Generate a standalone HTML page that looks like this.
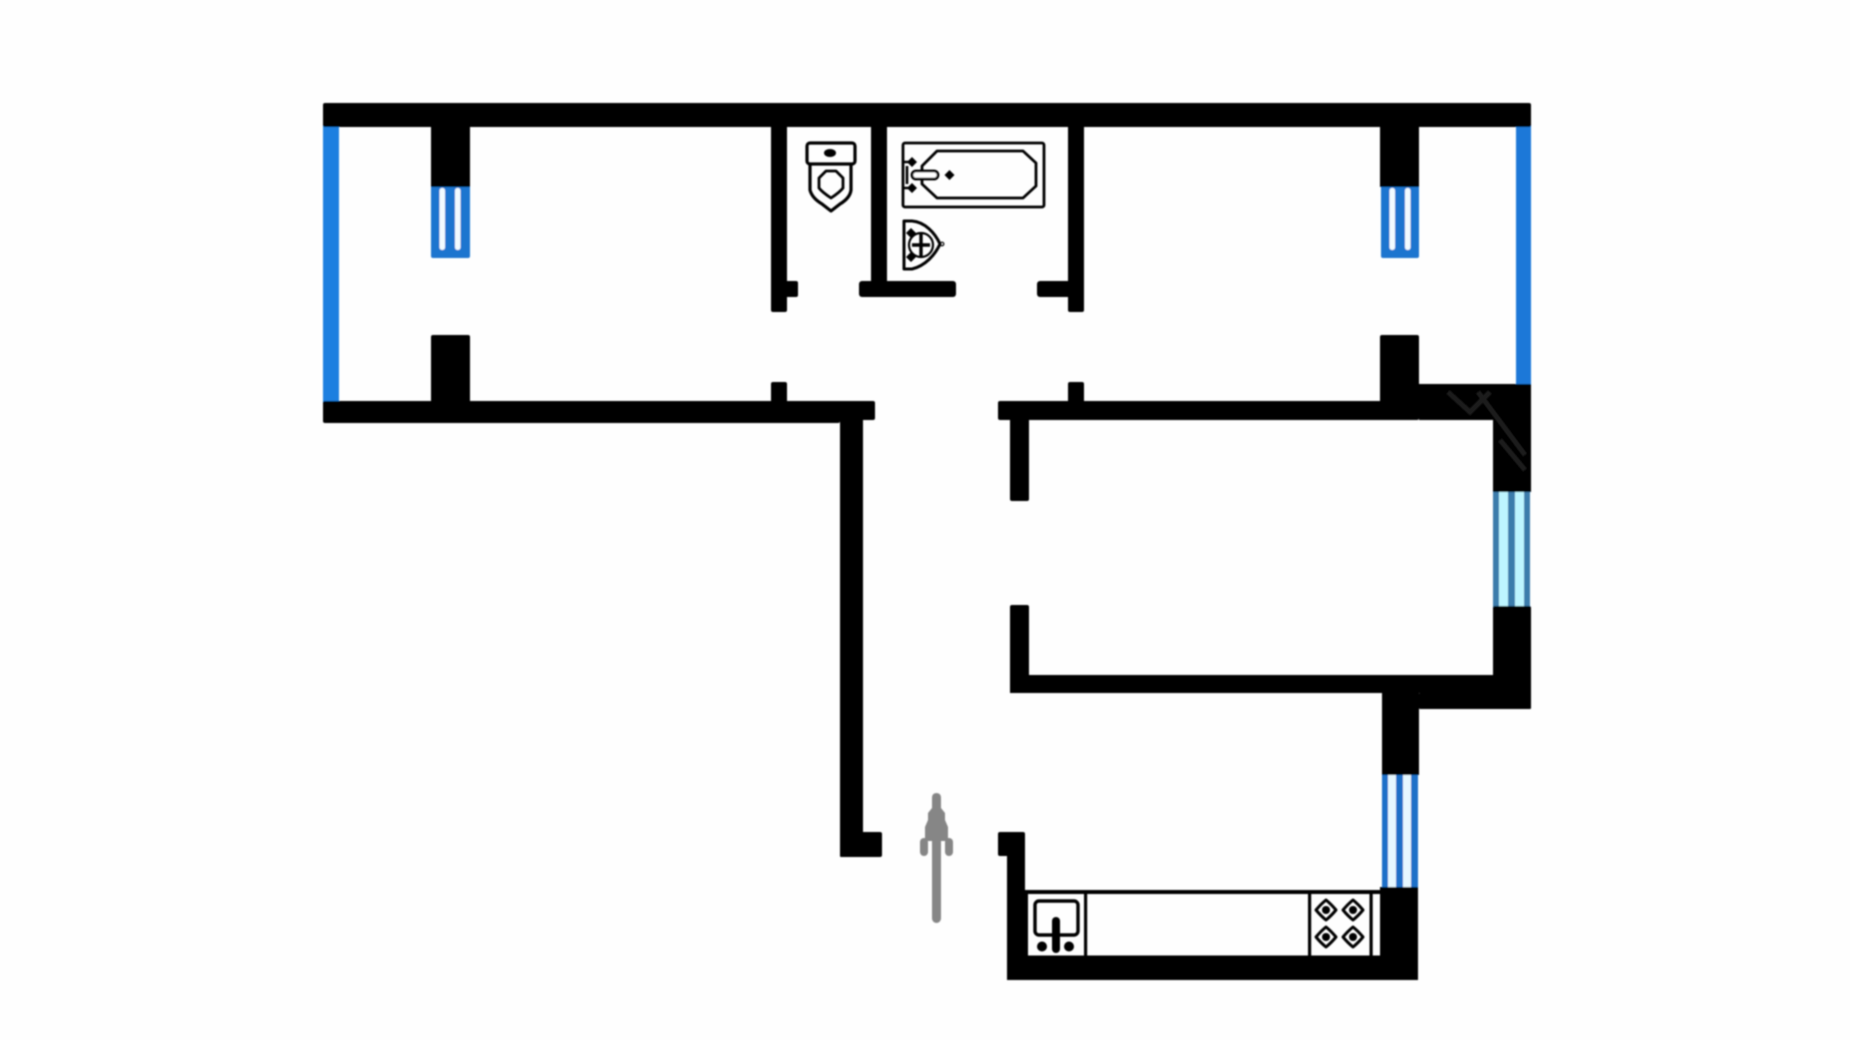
<!DOCTYPE html>
<html>
<head>
<meta charset="utf-8">
<style>
html,body{margin:0;padding:0;background:#fefefe;width:1850px;height:1040px;overflow:hidden}
svg{display:block}
</style>
</head>
<body>
<svg width="1850" height="1040" viewBox="0 0 1850 1040" xmlns="http://www.w3.org/2000/svg">
<defs><filter id="b" x="-2%" y="-2%" width="104%" height="104%"><feGaussianBlur stdDeviation="0.7"/></filter></defs>
<rect width="1850" height="1040" fill="#fefefe"/>
<g filter="url(#b)">
<!-- blue long windows -->
<rect x="323" y="125" width="16" height="278" fill="#1a7fe0"/>
<rect x="1516" y="125" width="15" height="262" fill="#1a78d8"/>

<!-- small windows top -->
<rect x="431" y="185" width="39" height="73" rx="2" fill="#1c74cf"/>
<rect x="439.5" y="188" width="5.5" height="62" rx="2.5" fill="#f2fbff"/>
<rect x="455" y="188" width="5.5" height="62" rx="2.5" fill="#f2fbff"/>
<rect x="1381" y="185" width="38" height="73" rx="2" fill="#1c74cf"/>
<rect x="1389.5" y="188" width="5.5" height="62" rx="2.5" fill="#f2fbff"/>
<rect x="1405" y="188" width="5.5" height="62" rx="2.5" fill="#f2fbff"/>

<!-- middle right window -->
<rect x="1493" y="490" width="37" height="118" fill="#3a7cab"/>
<rect x="1499" y="490" width="9" height="118" fill="#bdf5ff"/>
<rect x="1515" y="490" width="9" height="118" fill="#bdf5ff"/>

<!-- kitchen window -->
<rect x="1382" y="773" width="36" height="116" fill="#1a70c8"/>
<rect x="1388" y="773" width="8" height="116" fill="#e6f8ff"/>
<rect x="1403" y="773" width="8" height="116" fill="#e6f8ff"/>

<!-- walls -->
<g fill="#000">
<rect x="323" y="103" width="1208" height="24" rx="2"/>
<rect x="431" y="120" width="39" height="67"/>
<rect x="1380" y="120" width="39" height="67"/>
<rect x="431" y="335" width="39" height="70" rx="2"/>
<rect x="323" y="401" width="552" height="19" rx="2"/>
<rect x="323" y="401" width="517" height="22" rx="2"/>
<rect x="771" y="382" width="16" height="25" rx="2"/>
<rect x="771" y="120" width="16" height="192" rx="2"/>
<rect x="780" y="281" width="18" height="16" rx="2"/>
<rect x="871" y="120" width="16" height="170"/>
<rect x="859" y="281" width="97" height="16" rx="3"/>
<rect x="1068" y="120" width="16" height="192" rx="2"/>
<rect x="1037" y="281" width="40" height="16" rx="3"/>
<rect x="840" y="410" width="23" height="447" rx="1"/>
<rect x="840" y="832" width="42" height="25" rx="2"/>
<rect x="998" y="832" width="27" height="24" rx="2"/>
<rect x="1007" y="840" width="18" height="140"/>
<rect x="1007" y="890" width="21" height="90"/>
<rect x="1007" y="955.5" width="411" height="24.5" rx="2"/>
<rect x="1380" y="887" width="38" height="93"/>
<rect x="998" y="401" width="420" height="19" rx="2"/>
<rect x="1068" y="382" width="16" height="25" rx="2"/>
<rect x="1010" y="410" width="19" height="91" rx="2"/>
<rect x="1010" y="605" width="19" height="88" rx="2"/>
<rect x="1010" y="675" width="500" height="18"/>
<rect x="1380" y="335" width="39" height="85" rx="2"/>
<rect x="1419" y="384" width="112" height="36"/>
<rect x="1493" y="400" width="38" height="92"/>
<rect x="1493" y="606" width="38" height="103" rx="2"/>
<rect x="1419" y="693" width="112" height="16" rx="1"/>
<rect x="1382" y="690" width="37" height="85"/>
</g>

<!-- toilet -->
<g fill="none" stroke="#000" stroke-width="3.2" stroke-linejoin="round">
<rect x="807" y="143" width="48" height="21" rx="3"/>
<path d="M810 164 V190 Q812 198 822 204 L831 211 L840 204 Q850 198 851 190 V164"/>
<path d="M826 171 H836 L843 178 V188 Q840 192 831 198 Q822 192 819 188 V178 Z" stroke-width="2.8"/>
</g>
<ellipse cx="830" cy="153" rx="6" ry="4" fill="#000"/>

<!-- bath -->
<g fill="none" stroke="#000" stroke-width="2.8" stroke-linejoin="round">
<rect x="903" y="143" width="141" height="64" rx="2"/>
<path d="M937 151 H1023 L1036 163 V186 L1023 198 H937 L922 184 V166 Z"/>
<rect x="912" y="171" width="26" height="8" rx="4" fill="#fff"/>
</g>
<path d="M949.5 170 L954.5 175 L949.5 180 L944.5 175 Z M912 157 L917 162 L912 167 L907 162 Z M912 183 L917 188 L912 193 L907 188 Z" fill="#000"/>
<path d="M904 162 H914 M904 188 H914 M907 166 V184" stroke="#000" stroke-width="2.6"/>

<!-- bidet -->
<g fill="none" stroke="#000" stroke-width="3" stroke-linejoin="round">
<path d="M904 221 H912 C925 222 935 233 940 244 C935 255 925 266 912 269 H904 Z"/>
<circle cx="921" cy="245" r="12" stroke-width="2.2"/>
</g>
<path d="M921 234 V256 M912 245 H930" stroke="#000" stroke-width="3.4"/>
<path d="M911 228 L916 233 L911 238 L906 233 Z M911 252 L916 257 L911 262 L906 257 Z" fill="#000"/>
<circle cx="942" cy="244" r="1.8" fill="none" stroke="#000" stroke-width="1.2"/>

<!-- counter -->
<rect x="1025" y="890" width="357" height="4" fill="#000"/>
<g fill="#000">
<rect x="1084" y="892" width="3.2" height="65"/>
<rect x="1308" y="892" width="3.2" height="65"/>
<rect x="1369.5" y="892" width="3.2" height="65"/>
</g>
<rect x="1035" y="901" width="43" height="34" rx="4" fill="none" stroke="#000" stroke-width="3.4"/>
<rect x="1052" y="917" width="8" height="36" rx="4" fill="#000"/>
<circle cx="1042" cy="946.5" r="5" fill="#000"/>
<circle cx="1069" cy="946.5" r="5" fill="#000"/>

<!-- hob -->
<g fill="none" stroke="#000" stroke-width="3" stroke-linejoin="round">
<path d="M1326 900 Q1331 904 1336 910 Q1331 916 1326 920 Q1321 916 1316 910 Q1321 904 1326 900 Z"/>
<path d="M1353 900 Q1358 904 1363 910 Q1358 916 1353 920 Q1348 916 1343 910 Q1348 904 1353 900 Z"/>
<path d="M1326 927 Q1331 931 1336 937 Q1331 943 1326 947 Q1321 943 1316 937 Q1321 931 1326 927 Z"/>
<path d="M1353 927 Q1358 931 1363 937 Q1358 943 1353 947 Q1348 943 1343 937 Q1348 931 1353 927 Z"/>
</g>
<g fill="#000">
<circle cx="1326" cy="910" r="4"/><circle cx="1353" cy="910" r="4"/>
<circle cx="1326" cy="937" r="4"/><circle cx="1353" cy="937" r="4"/>
</g>

<!-- entrance arrow -->
<g fill="#868686">
<path d="M936.5 793 Q941 793 941 798 V808 L945 813 V820 L948 827 V841 H925 V827 L928 820 V813 L932 808 V798 Q932 793 936.5 793 Z"/>
<rect x="932" y="835" width="9" height="88" rx="4.5"/>
<rect x="920" y="838" width="8" height="18" rx="4"/>
<rect x="945" y="838" width="8" height="18" rx="4"/>
</g>
</g>

<!-- faint watermark on the black corner -->
<g stroke="#1c1c1c" stroke-width="5" fill="none" filter="url(#b)">
<path d="M1448 392 L1470 412 L1490 392 M1478 392 L1525 455 M1500 440 L1525 470"/>
</g>
</svg>
</body>
</html>
